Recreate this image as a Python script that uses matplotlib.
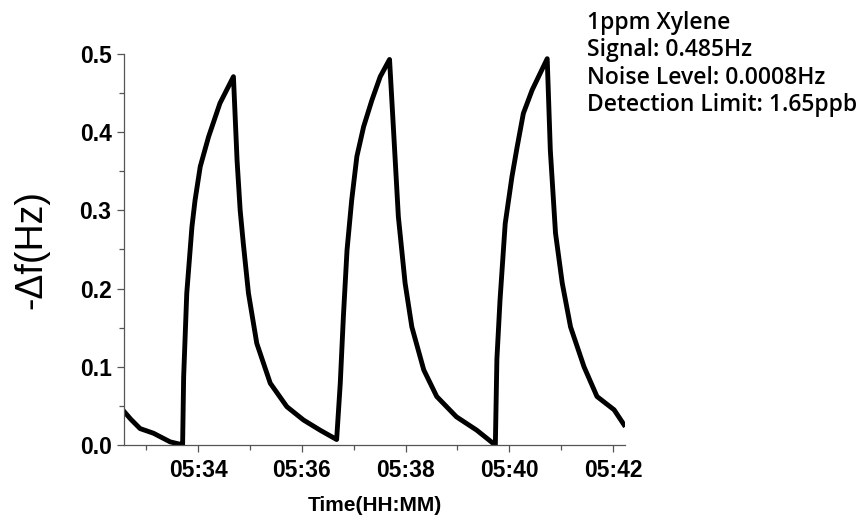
import matplotlib
matplotlib.use('Agg')
import matplotlib.pyplot as plt
from matplotlib.ticker import MultipleLocator, FuncFormatter

# --- data (time in minutes after 05:00, -df in Hz) ---
time_min = [32.57, 32.70, 32.88, 33.14, 33.46, 33.65, 33.70,
            33.72, 33.78, 33.88, 33.94, 34.04, 34.20, 34.42, 34.55, 34.68,
            34.75, 34.81, 34.87, 34.97, 35.13, 35.39, 35.71, 36.03, 36.35, 36.67,
            36.74, 36.80, 36.87, 36.96, 37.06, 37.19, 37.35, 37.51, 37.69,
            37.77, 37.86, 37.99, 38.12, 38.35, 38.60, 38.98, 39.37, 39.69, 39.73,
            39.76, 39.82, 39.92, 40.05, 40.15, 40.27, 40.44, 40.73,
            40.79, 40.89, 41.02, 41.18, 41.44, 41.69, 42.02, 42.21]
delta_f = [0.043, 0.033, 0.021, 0.015, 0.004, 0.001, 0.000,
           0.087, 0.194, 0.279, 0.313, 0.356, 0.394, 0.437, 0.454, 0.471,
           0.364, 0.300, 0.258, 0.194, 0.130, 0.079, 0.049, 0.032, 0.019, 0.007,
           0.079, 0.164, 0.249, 0.313, 0.369, 0.407, 0.441, 0.471, 0.493,
           0.399, 0.292, 0.207, 0.151, 0.096, 0.062, 0.036, 0.019, 0.002, 0.000,
           0.110, 0.185, 0.283, 0.343, 0.381, 0.424, 0.454, 0.494,
           0.377, 0.271, 0.207, 0.151, 0.100, 0.062, 0.045, 0.026]

info_lines = ['1ppm Xylene', 'Signal: 0.485Hz',
              'Noise Level: 0.0008Hz', 'Detection Limit: 1.65ppb']

fig = plt.figure(figsize=(8.6, 5.2), dpi=100)
ax = fig.add_axes([124 / 860, 75 / 520, 501 / 860, 391 / 520])

ax.plot(time_min, delta_f, color='black', lw=3.5, solid_joinstyle='round')

ax.set_xlim(32.57, 42.23)
ax.set_ylim(0.0, 0.5)

for side in ('top', 'right'):
    ax.spines[side].set_visible(False)
for side in ('left', 'bottom'):
    ax.spines[side].set_color('#555555')
    ax.spines[side].set_linewidth(0.9)

ax.xaxis.set_major_locator(MultipleLocator(2))
ax.xaxis.set_minor_locator(MultipleLocator(1))
ax.yaxis.set_major_locator(MultipleLocator(0.1))
ax.yaxis.set_minor_locator(MultipleLocator(0.05))
ax.xaxis.set_major_formatter(FuncFormatter(lambda m, _: f"05:{int(round(m)):02d}"))
ax.yaxis.set_major_formatter(FuncFormatter(lambda v, _: f"{v:.1f}"))

ax.tick_params(which='major', direction='out', length=5, width=0.9, color='#555555')
ax.tick_params(which='minor', direction='out', length=3.5, width=0.9, color='#555555')
for lab in ax.get_xticklabels() + ax.get_yticklabels():
    lab.set_fontfamily('Liberation Sans')
    lab.set_fontweight('bold')
    lab.set_fontsize(16.5)
ax.tick_params(axis='x', pad=5)
ax.tick_params(axis='y', pad=4)

ax.set_xlabel('Time(HH:MM)', fontfamily='Liberation Sans', fontweight='bold',
              fontsize=15, labelpad=10)
ax.set_ylabel('-\u0394f(Hz)', fontfamily='Liberation Sans', fontsize=27, labelpad=22)

# annotation block at the top right
for i, line in enumerate(info_lines):
    fig.text(587 / 860, 1 - (29 + 27.3 * i) / 520, line, fontfamily='Open Sans',
             fontweight='semibold', fontsize=16.5, va='baseline', ha='left',
             color='black')

fig.savefig('out.png', dpi=100)
